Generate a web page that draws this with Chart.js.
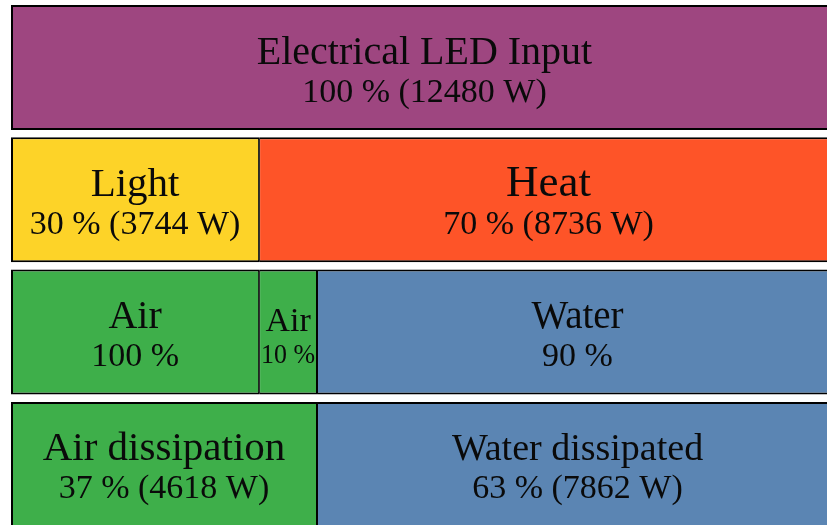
<!DOCTYPE html>
<html>
<head>
<meta charset="utf-8">
<script src="https://cdn.jsdelivr.net/npm/chart.js@4/dist/chart.umd.min.js"></script>
<style>
  html, body { margin: 0; padding: 0; overflow: hidden; background: #ffffff; width: 827px; height: 525px; }
  #wrap { position: absolute; left: 0; top: 0; width: 849px; height: 535px; }
</style>
</head>
<body>
<div id="wrap"><canvas id="c" width="849" height="535"></canvas></div>
<script>
// ---- data (watts) ----
const categories = ['Electrical input', 'Light / Heat', 'Air / Water share', 'Dissipation'];
const segment1 = [12480, 3744, 3744, 4618];
const segment2 = [null, 8736, 874, 7862];
const segment3 = [null, null, 7862, null];

// ---- labels ----
const names1 = ['Electrical LED Input', 'Light', 'Air', 'Air dissipation'];
const names2 = [null, 'Heat', 'Air', 'Water dissipated'];
const names3 = [null, null, 'Water', null];
const values1 = ['100 % (12480 W)', '30 % (3744 W)', '100 %', '37 % (4618 W)'];
const values2 = [null, '70 % (8736 W)', '10 %', '63 % (7862 W)'];
const values3 = [null, null, '90 %', null];

// ---- styles ----
const purple = '#9E4680', yellow = '#FDD328', orange = '#FE5428', green = '#3EAF4A', blue = '#5B85B3';
const colors1 = [purple, yellow, green, green];
const colors2 = [null, orange, green, blue];
const colors3 = [null, null, blue, null];
const nameSizes = [[40, 41, 40, 41], [0, 45, 34, 38], [0, 0, 39, 0]];
const valueSizes = [[34, 34, 34, 34], [0, 34, 28, 34], [0, 0, 34, 0]];

const allNames = [names1, names2, names3];
const allValues = [values1, values2, values3];

const labelPlugin = {
  id: 'segLabels',
  afterDatasetsDraw(chart) {
    const ctx = chart.ctx;
    ctx.save();
    ctx.fillStyle = '#0a0a0a';
    ctx.textAlign = 'center';
    ctx.textBaseline = 'alphabetic';
    chart.data.datasets.forEach((ds, di) => {
      const meta = chart.getDatasetMeta(di);
      meta.data.forEach((el, i) => {
        const name = allNames[di][i];
        if (!name) return;
        const cx = (el.x + el.base) / 2;
        const w = Math.abs(el.x - el.base) - 4;
        const narrow = w < 80;
        ctx.font = nameSizes[di][i] + 'px "Liberation Serif", "Times New Roman", serif';
        ctx.fillText(name, cx, el.y + (narrow ? -1.5 : -4), w);
        ctx.font = valueSizes[di][i] + 'px "Liberation Serif", "Times New Roman", serif';
        ctx.fillText(allValues[di][i], cx, el.y + (narrow ? 30.5 : 34), w);
      });
    });
    ctx.restore();
  }
};

const firstBorder = { left: 2, right: 1, top: 2, bottom: 2 };
const innerBorder = { left: 1, right: 1, top: 2, bottom: 2 };

new Chart(document.getElementById('c'), {
  type: 'bar',
  data: {
    labels: categories,
    datasets: [
      { label: 'Segment 1', data: segment1, backgroundColor: colors1, borderColor: '#000000', borderWidth: firstBorder, borderSkipped: false },
      { label: 'Segment 2', data: segment2, backgroundColor: colors2, borderColor: '#000000', borderWidth: innerBorder, borderSkipped: false },
      { label: 'Segment 3', data: segment3, backgroundColor: colors3, borderColor: '#000000', borderWidth: innerBorder, borderSkipped: false }
    ]
  },
  options: {
    indexAxis: 'y',
    responsive: false,
    animation: false,
    barPercentage: 125 / 132.3,
    categoryPercentage: 1,
    layout: { padding: { left: 11, right: 11, top: 1.35, bottom: 4.45 } },
    scales: {
      x: { stacked: true, min: 0, max: 12480, display: false },
      y: { stacked: true, display: false }
    },
    plugins: {
      legend: { display: false },
      tooltip: { enabled: false }
    }
  },
  plugins: [labelPlugin]
});
</script>
</body>
</html>
